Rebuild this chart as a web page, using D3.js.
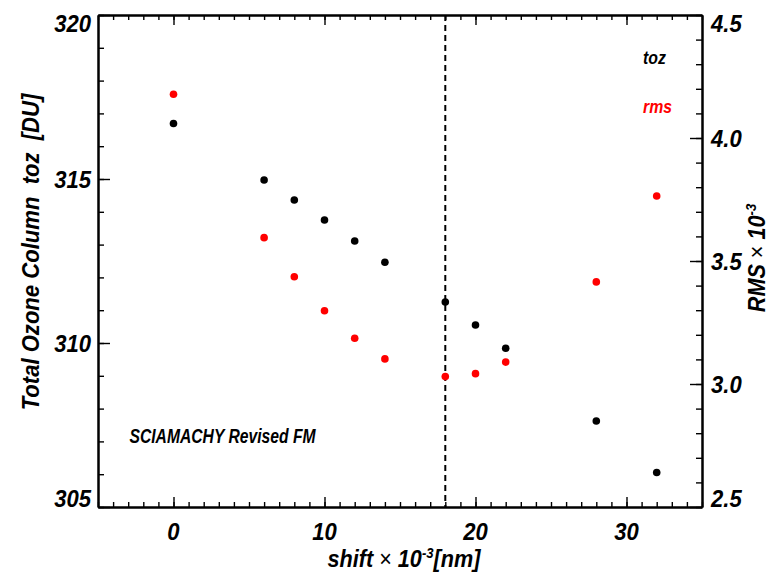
<!DOCTYPE html>
<html><head><meta charset="utf-8">
<script src="https://cdn.jsdelivr.net/npm/d3@7"></script>
<style>
body{margin:0;background:#fff;}
text{font-family:"Liberation Sans",Arial,Helvetica,sans-serif;font-weight:bold;font-style:italic;}
.tick text{display:none;}
</style></head><body>
<script>
const shift = [0, 6, 8, 10, 12, 14, 18, 20, 22, 28, 32];
const toz   = [316.69, 314.97, 314.36, 313.75, 313.11, 312.46, 311.25, 310.55, 309.84, 307.62, 306.05];
const rms   = [4.178, 3.595, 3.436, 3.298, 3.186, 3.102, 3.030, 3.042, 3.089, 3.415, 3.764];
const xTicks = [0, 10, 20, 30];
const leftTicks = [305, 310, 315, 320];
const rightTicks = [2.5, 3.0, 3.5, 4.0, 4.5];
const markerShift = [18];

const W = 769, H = 574;
const L = 98, R = 702, T = 15, B = 507;
const svg = d3.select("body").append("svg").attr("width", W).attr("height", H);

const x = d3.scaleLinear().domain([-5, 35]).range([L, R]);
const yL = d3.scaleLinear().domain([305, 320]).range([B, T]);
const yR = d3.scaleLinear().domain([2.5, 4.5]).range([B, T]);

function styleAxis(g){
  g.select(".domain").attr("stroke","#000").attr("stroke-width",2);
  g.selectAll(".tick line").attr("stroke","#000").attr("stroke-width",1.4);
}
const xMinor = d3.range(-5, 35.5, 1);
const lMinor = d3.range(305, 320.5, 1);
const rMinor = d3.range(25, 46, 1).map(v => v / 10);

// bottom
svg.append("g").attr("transform",`translate(0,${B})`).call(d3.axisBottom(x).tickValues(xMinor).tickSize(-5).tickSizeOuter(0)).call(styleAxis);
svg.append("g").attr("transform",`translate(0,${B})`).call(d3.axisBottom(x).tickValues(xTicks).tickSize(-10).tickSizeOuter(0)).call(styleAxis);
// top
svg.append("g").attr("transform",`translate(0,${T})`).call(d3.axisTop(x).tickValues(xMinor).tickSize(-5).tickSizeOuter(0)).call(styleAxis);
svg.append("g").attr("transform",`translate(0,${T})`).call(d3.axisTop(x).tickValues(xTicks).tickSize(-10).tickSizeOuter(0)).call(styleAxis);
// left
svg.append("g").attr("transform",`translate(${L},0)`).call(d3.axisLeft(yL).tickValues(lMinor).tickSize(-6).tickSizeOuter(0)).call(styleAxis);
svg.append("g").attr("transform",`translate(${L},0)`).call(d3.axisLeft(yL).tickValues(leftTicks).tickSize(-12).tickSizeOuter(0)).call(styleAxis);
// right
svg.append("g").attr("transform",`translate(${R},0)`).call(d3.axisRight(yR).tickValues(rMinor).tickSize(-6).tickSizeOuter(0)).call(styleAxis);
svg.append("g").attr("transform",`translate(${R},0)`).call(d3.axisRight(yR).tickValues(rightTicks).tickSize(-12).tickSizeOuter(0)).call(styleAxis);

// tick labels
svg.append("g").selectAll("text").data(xTicks).join("text")
  .attr("transform", d => `translate(${x(d)},540) scale(0.94,1)`).attr("text-anchor","middle")
  .style("font-size","23.5px").text(d => d);
function vy(scale, d, lo, hi){
  const p = scale(d);
  if (d === hi) return T + 17;
  if (d === lo) return B;
  return p + 8.5;
}
svg.append("g").selectAll("text").data(leftTicks).join("text")
  .attr("transform", d => `translate(91,${vy(yL, d, 305, 320)}) scale(0.94,1)`).attr("text-anchor","end")
  .style("font-size","23.5px").text(d => d);
svg.append("g").selectAll("text").data(rightTicks).join("text")
  .attr("transform", d => `translate(711,${vy(yR, d, 2.5, 4.5)}) scale(0.94,1)`).attr("text-anchor","start")
  .style("font-size","23.5px").text(d => d3.format(".1f")(d));

// dashed marker line
svg.append("g").selectAll("line").data(markerShift).join("line")
  .attr("x1", d => x(d)).attr("x2", d => x(d)).attr("y1", T).attr("y2", B)
  .attr("stroke","#000").attr("stroke-width",2).attr("stroke-dasharray","6,4");

// points
svg.append("g").selectAll("circle").data(shift).join("circle")
  .attr("cx", d => x(d)).attr("cy", (d,i) => yL(toz[i])).attr("r", 3.8).attr("fill","#000");
svg.append("g").selectAll("circle").data(shift).join("circle")
  .attr("cx", d => x(d)).attr("cy", (d,i) => yR(rms[i])).attr("r", 3.8).attr("fill","#ff0000");

// legend
svg.append("text").attr("transform","translate(643,63.5) scale(0.88,1)").style("font-size","18px").attr("fill","#000").text("toz");
svg.append("text").attr("transform","translate(643,112.5) scale(0.88,1)").style("font-size","18px").attr("fill","#ff0000").text("rms");
svg.append("text").attr("transform","translate(129.5,443) scale(0.8,1)").style("font-size","19.6px").attr("fill","#000").text("SCIAMACHY Revised FM");

// y label left
svg.append("text").attr("transform","translate(39,252) rotate(-90) scale(0.92,1)").attr("text-anchor","middle")
  .style("font-size","24px").style("white-space","pre").attr("xml:space","preserve")
  .text("Total Ozone Column  toz  [DU]");

// right label
const rl = svg.append("text").attr("transform","translate(765,258) rotate(-90) scale(0.94,1)").attr("text-anchor","middle").style("font-size","23px");
rl.append("tspan").text("RMS ");
rl.append("tspan").style("font-weight","normal").style("font-style","normal").text("×");
rl.append("tspan").text(" 10");
rl.append("tspan").attr("dy",-9).style("font-size","14px").text("-3");

// x label
const xl = svg.append("text").attr("transform","translate(404,567) scale(0.94,1)").attr("text-anchor","middle").style("font-size","23px");
xl.append("tspan").text("shift ");
xl.append("tspan").style("font-weight","normal").style("font-style","normal").text("×");
xl.append("tspan").text(" 10");
xl.append("tspan").attr("dy",-9).style("font-size","14px").text("-3");
xl.append("tspan").attr("dy",9).text("[nm]");
</script>
</body></html>
